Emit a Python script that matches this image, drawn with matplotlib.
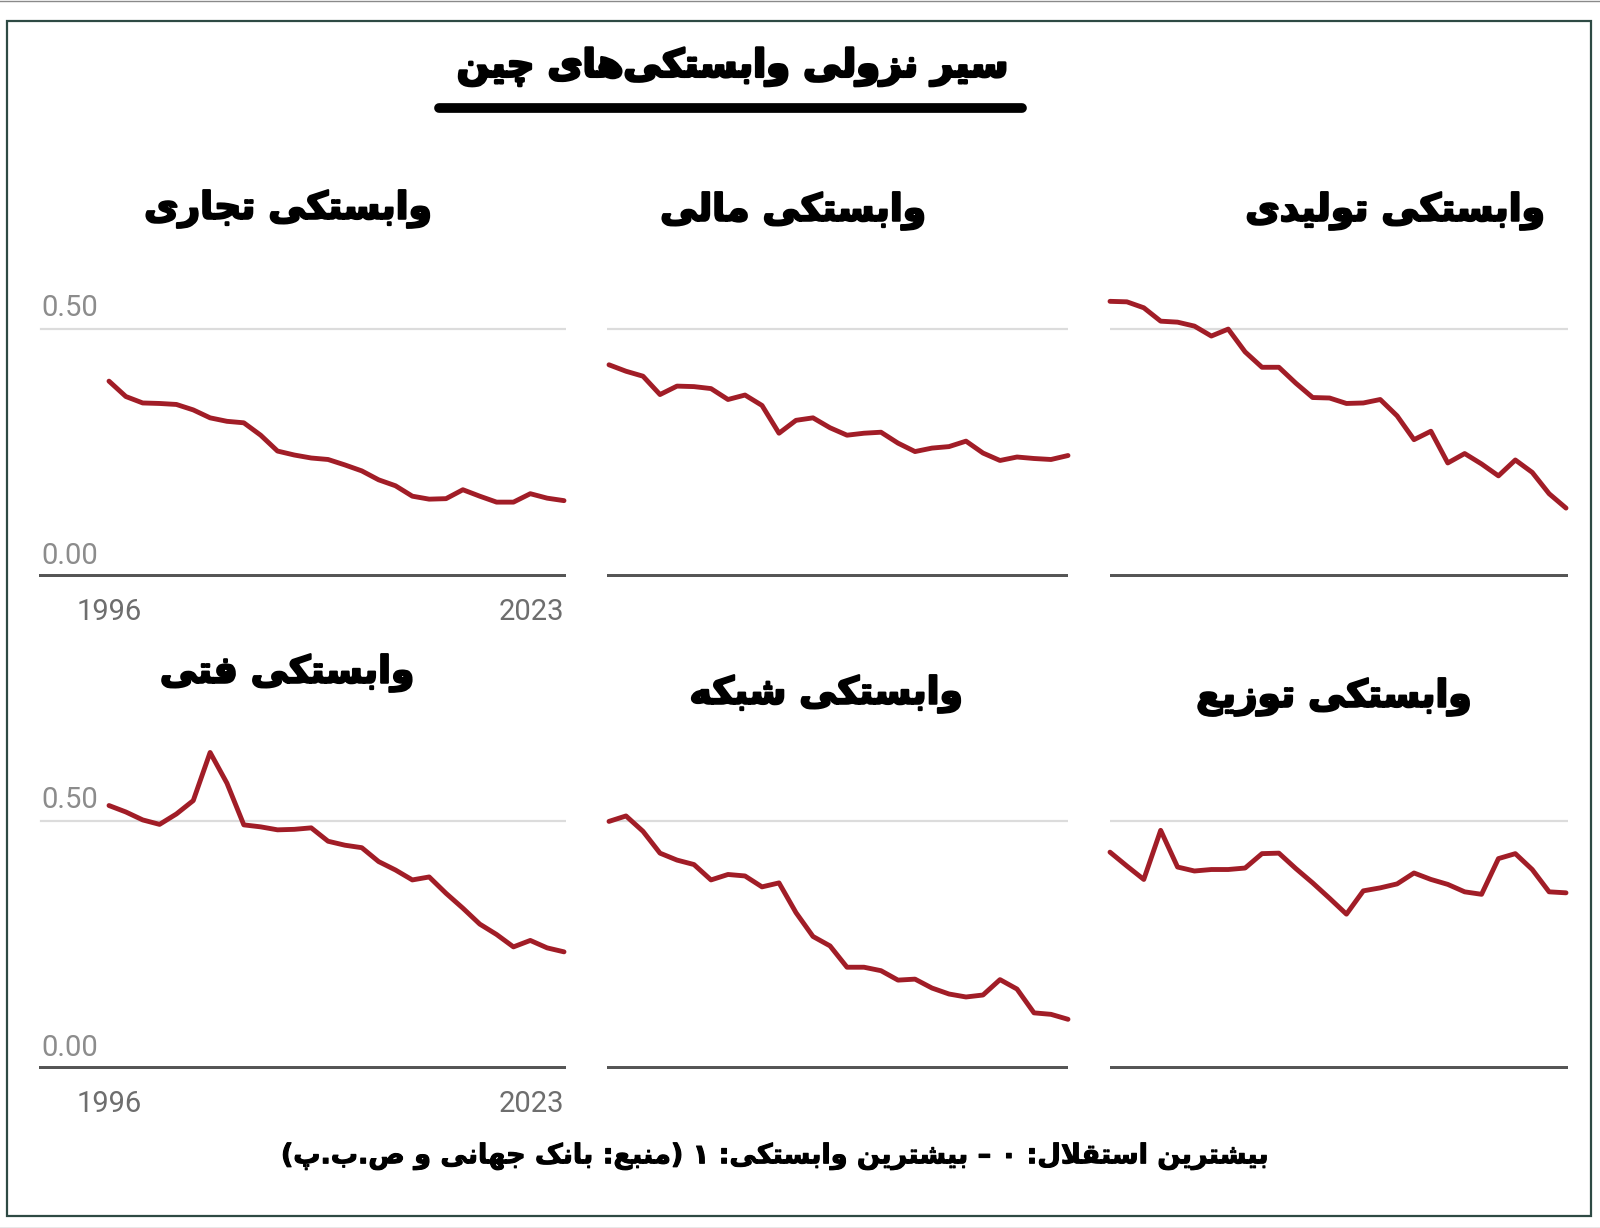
import matplotlib
matplotlib.use("Agg")
import matplotlib.pyplot as plt
import matplotlib.patheffects as pe
from matplotlib.lines import Line2D
from matplotlib.patches import Rectangle

# ---- data ----
years = list(range(1996, 2024))

production = [0.555, 0.554, 0.542, 0.515, 0.513, 0.505, 0.485, 0.499, 0.453, 0.422,
              0.422, 0.390, 0.361, 0.360, 0.349, 0.350, 0.357, 0.324, 0.276, 0.293,
              0.229, 0.248, 0.227, 0.203, 0.235, 0.210, 0.167, 0.138]
financial = [0.427, 0.414, 0.404, 0.367, 0.384, 0.383, 0.379, 0.357, 0.366, 0.345,
             0.289, 0.315, 0.320, 0.300, 0.285, 0.289, 0.291, 0.269, 0.252, 0.259,
             0.262, 0.273, 0.249, 0.234, 0.241, 0.238, 0.236, 0.244]
trade = [0.394, 0.363, 0.350, 0.349, 0.347, 0.336, 0.320, 0.313, 0.310, 0.285,
         0.253, 0.245, 0.239, 0.236, 0.225, 0.213, 0.195, 0.183, 0.162, 0.156,
         0.157, 0.175, 0.162, 0.150, 0.150, 0.167, 0.158, 0.153]
distribution = [0.438, 0.410, 0.383, 0.482, 0.408, 0.400, 0.403, 0.403, 0.406, 0.435,
                0.436, 0.405, 0.376, 0.345, 0.313, 0.360, 0.366, 0.374, 0.396, 0.383,
                0.373, 0.358, 0.353, 0.425, 0.435, 0.403, 0.358, 0.356]
network = [0.500, 0.511, 0.480, 0.436, 0.422, 0.413, 0.382, 0.393, 0.390, 0.368,
           0.376, 0.316, 0.268, 0.249, 0.206, 0.206, 0.199, 0.180, 0.182, 0.164,
           0.152, 0.146, 0.150, 0.181, 0.162, 0.114, 0.111, 0.101]
technical = [0.532, 0.519, 0.503, 0.494, 0.515, 0.542, 0.639, 0.577, 0.493, 0.489,
             0.483, 0.484, 0.487, 0.460, 0.452, 0.447, 0.419, 0.402, 0.382, 0.388,
             0.355, 0.325, 0.293, 0.272, 0.247, 0.260, 0.245, 0.237]

titles = ["وابستکی تولیدی", "وابستکی مالی", "وابستکی تجاری",
          "وابستکی توزیع", "وابستکی شبکه", "وابستکی فتی"]
series = [production, financial, trade, distribution, network, technical]
main_title = "سیر نزولی وابستکی‌های چین"
footer = "بیشترین استقلال: ۰ – بیشترین وابستکی: ۱ (منبع: بانک جهانی و ص.ب.پ)"
ytick_labels = ["0.00", "0.50"]

# ---- tiny Persian shaper (presentation forms + visual order) ----
FORMS = {
    'ا': ('\uFE8D', '\uFE8E', None, None),
    'ب': ('\uFE8F', '\uFE90', '\uFE91', '\uFE92'),
    'پ': ('\uFB56', '\uFB57', '\uFB58', '\uFB59'),
    'ت': ('\uFE95', '\uFE96', '\uFE97', '\uFE98'),
    'ج': ('\uFE9D', '\uFE9E', '\uFE9F', '\uFEA0'),
    'چ': ('\uFB7A', '\uFB7B', '\uFB7C', '\uFB7D'),
    'د': ('\uFEA9', '\uFEAA', None, None),
    'ر': ('\uFEAD', '\uFEAE', None, None),
    'ز': ('\uFEAF', '\uFEB0', None, None),
    'س': ('\uFEB1', '\uFEB2', '\uFEB3', '\uFEB4'),
    'ش': ('\uFEB5', '\uFEB6', '\uFEB7', '\uFEB8'),
    'ص': ('\uFEB9', '\uFEBA', '\uFEBB', '\uFEBC'),
    'ع': ('\uFEC9', '\uFECA', '\uFECB', '\uFECC'),
    'ف': ('\uFED1', '\uFED2', '\uFED3', '\uFED4'),
    'ق': ('\uFED5', '\uFED6', '\uFED7', '\uFED8'),
    'ک': ('\uFB8E', '\uFB8F', '\uFB90', '\uFB91'),
    'ل': ('\uFEDD', '\uFEDE', '\uFEDF', '\uFEE0'),
    'م': ('\uFEE1', '\uFEE2', '\uFEE3', '\uFEE4'),
    'ن': ('\uFEE5', '\uFEE6', '\uFEE7', '\uFEE8'),
    'ه': ('\uFEE9', '\uFEEA', '\uFEEB', '\uFEEC'),
    'و': ('\uFEED', '\uFEEE', None, None),
    'ی': ('\uFBFC', '\uFBFD', '\uFBFE', '\uFBFF'),
}


def fa(s):
    out = []
    prev_joins = False
    i = 0
    while i < len(s):
        c = s[i]
        if c not in FORMS:
            if c != '\u200c':
                out.append(c)
            prev_joins = False
            i += 1
            continue
        nxt = s[i + 1] if i + 1 < len(s) else ''
        if c == 'ل' and nxt == 'ا':
            out.append('\uFEFC' if prev_joins else '\uFEFB')
            prev_joins = False
            i += 2
            continue
        iso, fin, ini, med = FORMS[c]
        to_next = ini is not None and nxt in FORMS
        if prev_joins and to_next:
            g = med
        elif prev_joins:
            g = fin
        elif to_next:
            g = ini
        else:
            g = iso
        out.append(g)
        prev_joins = ini is not None
        i += 1
    mirror = {'(': ')', ')': '('}
    return ''.join(mirror.get(ch, ch) for ch in reversed(out))


# ---- layout (pixels of a 1600x1228 canvas) ----
W, H = 1600, 1228
RED = '#a11d27'
GRID = '#dcdcdc'
BASE = '#555555'
LABEL = '#8c8c8c'
FA = ['DejaVu Sans']
heavy = [pe.withStroke(linewidth=1.6, foreground='black')]

fig = plt.figure(figsize=(16, 12.28), dpi=100)
fig.patch.set_facecolor('white')

# columns: (axes left px, axes right px, px of first year, px of last year)
cols = [(1110, 1568, 1110, 1566), (607, 1068, 609, 1068), (39, 566, 109, 564)]
# rows: (baseline px, px of the 0.5 gridline)
rows = [(576.5, 328.6), (1069.4, 821.4)]
title_pos = [(1395, 211), (793, 211), (288, 209), (1334, 697), (826, 694), (287, 673)]

for k, vals in enumerate(series):
    r, c = divmod(k, 3)
    left, right, x0, x1 = cols[c]
    base, grid = rows[r]
    ppu = (base - grid) / 0.5
    top_val = 0.7
    ax = fig.add_axes([left / W, 1 - base / H, (right - left) / W, top_val * ppu / H])
    ax.set_facecolor('none')
    ppy = (x1 - x0) / (years[-1] - years[0])
    ax.set_xlim(years[0] - (x0 - left) / ppy, years[-1] + (right - x1) / ppy)
    ax.set_ylim(0, top_val)
    for s in ax.spines.values():
        s.set_visible(False)
    ax.set_xticks([])
    ax.set_yticks([])

    gx0 = 0.004 if c == 2 else 0.0
    ax.axhline(0.5, xmin=gx0, xmax=1, color=GRID, lw=1.6, zorder=1)
    ax.axhline(0.0, color=BASE, lw=4.3, solid_capstyle='round', zorder=2)
    ax.plot(years, vals, color=RED, lw=3.5, solid_joinstyle='round',
            solid_capstyle='round', clip_on=False, zorder=3)

    if c == 2:
        for yv, lab in zip([0.0, 0.5], ytick_labels):
            ax.annotate(lab, xy=(0.004, yv), xycoords=('axes fraction', 'data'),
                        xytext=(0, 13), textcoords='offset pixels',
                        ha='left', va='baseline', fontsize=21, color=LABEL,
                        family='Roboto')
        ax.annotate(str(years[0]), xy=(years[0], 0), xytext=(0, -43),
                    textcoords='offset pixels', ha='center', va='baseline',
                    fontsize=21, color='#6e6e6e', family='Roboto')
        ax.annotate(str(years[-1]), xy=(years[-1], 0), xytext=(0, -43),
                    textcoords='offset pixels', ha='right', va='baseline',
                    fontsize=21, color='#6e6e6e', family='Roboto')

    tx, ty = title_pos[k]
    fig.text(tx / W, 1 - ty / H, fa(titles[k]), ha='center', va='center',
             fontsize=27, fontweight='bold', family=FA, color='black',
             path_effects=heavy)

# main title and its underline
fig.text(733 / W, 1 - 67 / H, fa(main_title), ha='center', va='center',
         fontsize=27.5, fontweight='bold', family=FA, color='black',
         path_effects=[pe.withStroke(linewidth=2.0, foreground='black')])
fig.add_artist(Line2D([439 / W, 1022 / W], [1 - 108 / H, 1 - 108 / H],
                      transform=fig.transFigure, color='black', lw=7,
                      solid_capstyle='round'))

# footer
fig.text(776 / W, 1 - 1156 / H, fa(footer), ha='center', va='center',
         fontsize=19.5, fontweight='bold', family=FA, color='black',
         path_effects=[pe.withStroke(linewidth=0.8, foreground='black')])

# frame
fig.add_artist(Rectangle((7 / W, 1 - 1216 / H), (1591 - 7) / W, (1216 - 21) / H,
                         transform=fig.transFigure, fill=False,
                         edgecolor='#2e4a44', lw=1.6))
fig.add_artist(Line2D([0, 1], [1 - 0.5 / H, 1 - 0.5 / H], transform=fig.transFigure,
                      color='#8a8a8a', lw=1.0))
fig.add_artist(Line2D([0, 1], [0.5 / H, 0.5 / H], transform=fig.transFigure,
                      color='#8a8a8a', lw=1.0))

fig.savefig('out.png', dpi=100, facecolor='white')
